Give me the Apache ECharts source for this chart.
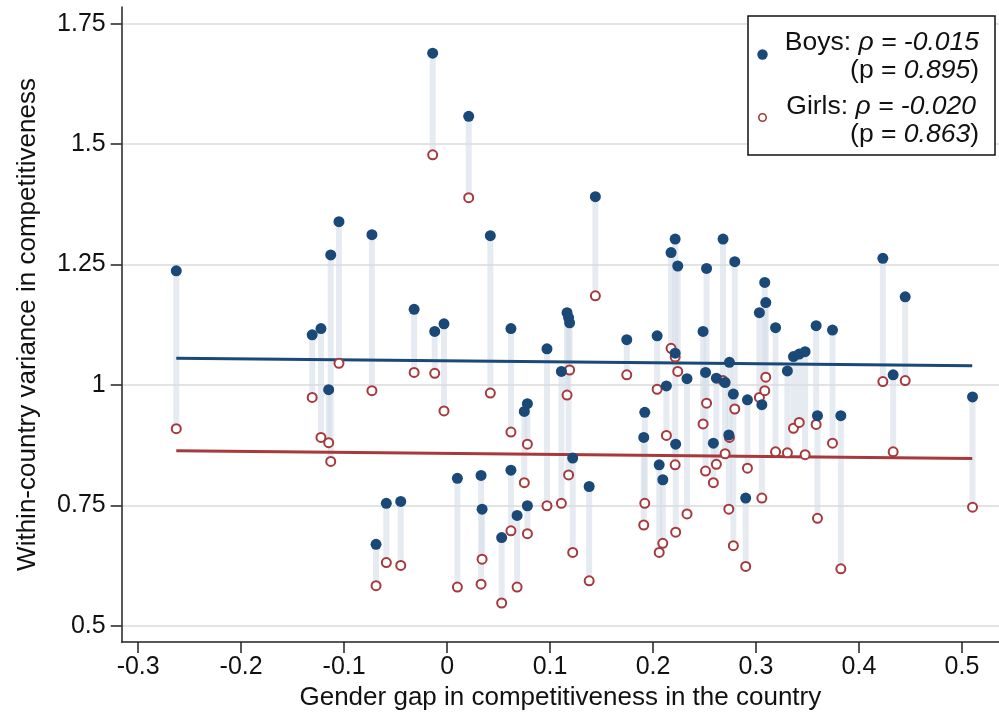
<!DOCTYPE html>
<html>
<head>
<meta charset="utf-8">
<script src="https://cdn.jsdelivr.net/npm/echarts@6/dist/echarts.min.js"></script>
<style>
  html, body { margin: 0; padding: 0; background: #fff; }
  #chart { width: 999px; height: 719px; }
</style>
</head>
<body>
<div id="chart"></div>
<script>
// Gender gap in competitiveness per country (x)
const gapValues = [
  -0.263, -0.131, -0.1225, -0.115, -0.113, -0.105, -0.073, -0.069, -0.059, -0.045,
  -0.032, -0.014, -0.012, -0.003, 0.010, 0.021, 0.033, 0.034, 0.042, 0.053,
  0.062, 0.062, 0.068, 0.075, 0.078, 0.078, 0.097, 0.111, 0.1165, 0.118,
  0.119, 0.122, 0.138, 0.144, 0.1745, 0.191, 0.192, 0.204, 0.206, 0.2095,
  0.213, 0.2175, 0.2215, 0.2215, 0.222, 0.224, 0.233, 0.2486, 0.251, 0.252,
  0.2586, 0.2615, 0.268, 0.270, 0.2736, 0.2742, 0.278, 0.2794, 0.290, 0.2917,
  0.3033, 0.3057, 0.3085, 0.3095, 0.319, 0.3305, 0.3364, 0.342, 0.3477, 0.3584,
  0.3597, 0.3743, 0.3824, 0.4232, 0.4332, 0.4449, 0.5103
];
// Within-country variance in competitiveness, boys
const boysValues = [
  1.237, 1.104, 1.117, 0.990, 1.270, 1.339, 1.312, 0.669, 0.754, 0.758,
  1.157, 1.689, 1.111, 1.127, 0.806, 1.558, 0.812, 0.742, 1.310, 0.683,
  0.823, 1.117, 0.729, 0.945, 0.961, 0.749, 1.075, 1.028, 1.150, 1.140,
  1.129, 0.848, 0.789, 1.391, 1.094, 0.891, 0.943, 1.102, 0.834, 0.803,
  0.998, 1.275, 1.303, 1.066, 0.877, 1.247, 1.013, 1.111, 1.026, 1.242,
  0.879, 1.014, 1.303, 1.005, 0.896, 1.047, 0.981, 1.256, 0.765, 0.969,
  1.150, 0.959, 1.213, 1.171, 1.119, 1.029, 1.059, 1.064, 1.069, 1.123,
  0.936, 1.114, 0.936, 1.263, 1.021, 1.183, 0.975
];
// Within-country variance in competitiveness, girls
const girlsValues = [
  0.909, 0.974, 0.891, 0.880, 0.841, 1.045, 0.988, 0.583, 0.631, 0.625,
  1.026, 1.478, 1.024, 0.946, 0.580, 1.389, 0.586, 0.638, 0.983, 0.547,
  0.697, 0.902, 0.580, 0.797, 0.877, 0.691, 0.749, 0.754, 0.979, 0.813,
  1.031, 0.652, 0.593, 1.185, 1.021, 0.709, 0.754, 0.991, 0.652, 0.671,
  0.895, 1.076, 1.058, 0.834, 0.694, 1.028, 0.732, 0.919, 0.821, 0.962,
  0.797, 0.835, 1.009, 0.857, 0.742, 0.891, 0.666, 0.950, 0.623, 0.827,
  0.974, 0.765, 0.988, 1.016, 0.861, 0.859, 0.910, 0.922, 0.855, 0.918,
  0.723, 0.879, 0.618, 1.007, 0.861, 1.009, 0.746
];
// Linear fit end points [x, y]
const boysFit = [[-0.263, 1.0555], [0.510, 1.040]];
const girlsFit = [[-0.263, 0.8635], [0.510, 0.847]];
// Tick values
const xTicks = [-0.3, -0.2, -0.1, 0, 0.1, 0.2, 0.3, 0.4, 0.5];
const yTicks = [0.5, 0.75, 1, 1.25, 1.5, 1.75];

const BLUE = '#1a4877';
const RED = '#a5393c';
const FONT = '"Liberation Sans", Arial, Helvetica, sans-serif';

const stemData = gapValues.map((g, i) => [g, boysValues[i], girlsValues[i]]);
const boysData = gapValues.map((g, i) => [g, boysValues[i]]);
const girlsData = gapValues.map((g, i) => [g, girlsValues[i]]);

const chart = echarts.init(document.getElementById('chart'), null, { renderer: 'canvas' });

const lineStyleAxis = { color: '#222', width: 1.5 };
const labelStyle = { color: '#111', fontSize: 25, fontFamily: FONT };
const titleStyle = { color: '#111', fontSize: 26, fontFamily: FONT };

function richLine(text) {
  return {
    text: text, align: 'right', verticalAlign: 'middle',
    rich: {
      n: { fontSize: 26.5, fontFamily: FONT, fill: '#111' },
      i: { fontSize: 26.5, fontFamily: FONT, fontStyle: 'italic', fill: '#111' }
    }
  };
}

chart.setOption({
  animation: false,
  backgroundColor: '#fff',
  grid: { left: 121.7, right: 0, top: 7, bottom: 77, containLabel: false },
  xAxis: {
    type: 'value',
    min: -0.316,
    max: 0.536,
    name: 'Gender gap in competitiveness in the country',
    nameLocation: 'middle',
    nameGap: 43,
    axisLine: { show: true, onZero: false, lineStyle: lineStyleAxis },
    axisTick: { show: true, inside: false, length: 11, customValues: xTicks, lineStyle: lineStyleAxis },
    axisLabel: Object.assign({ customValues: xTicks, margin: 13 }, labelStyle),
    nameTextStyle: titleStyle,
    splitLine: { show: false }
  },
  yAxis: {
    type: 'value',
    min: 0.466,
    max: 1.785,
    name: 'Within-country variance in competitiveness',
    nameLocation: 'middle',
    nameRotate: 90,
    nameGap: 81,
    axisLine: { show: true, onZero: false, lineStyle: lineStyleAxis },
    axisTick: { show: true, inside: false, length: 11, customValues: yTicks, lineStyle: lineStyleAxis },
    axisLabel: Object.assign({ customValues: yTicks, margin: 16 }, labelStyle),
    nameTextStyle: titleStyle,
    splitLine: { show: true, lineStyle: { color: '#e3e3e3', width: 2 } }
  },
  series: [
    {
      type: 'custom',
      name: 'stems',
      data: stemData,
      z: 1,
      renderItem: function (params, api) {
        const top = api.coord([api.value(0), api.value(1)]);
        const bottom = api.coord([api.value(0), api.value(2)]);
        return {
          type: 'line',
          shape: { x1: top[0], y1: top[1], x2: bottom[0], y2: bottom[1] },
          style: { stroke: 'rgba(214, 222, 232, 0.6)', lineWidth: 6 }
        };
      }
    },
    {
      type: 'line',
      name: 'Boys fit',
      data: boysFit,
      z: 2,
      symbol: 'none',
      lineStyle: { color: BLUE, width: 3 }
    },
    {
      type: 'line',
      name: 'Girls fit',
      data: girlsFit,
      z: 2,
      symbol: 'none',
      lineStyle: { color: RED, width: 3 }
    },
    {
      type: 'scatter',
      name: 'Girls',
      data: girlsData,
      z: 3,
      symbol: 'circle',
      symbolSize: 9,
      itemStyle: { color: '#fff', borderColor: RED, borderWidth: 2, opacity: 1 }
    },
    {
      type: 'scatter',
      name: 'Boys',
      data: boysData,
      z: 4,
      symbol: 'circle',
      symbolSize: 11,
      itemStyle: { color: BLUE, opacity: 1 }
    }
  ],
  graphic: [
    {
      type: 'rect',
      z: 100,
      shape: { x: 748, y: 16, width: 247, height: 139 },
      style: { fill: '#fff', stroke: '#111', lineWidth: 1.5 }
    },
    {
      type: 'circle',
      z: 101,
      shape: { cx: 762.5, cy: 54.5, r: 5.2 },
      style: { fill: BLUE }
    },
    {
      type: 'circle',
      z: 101,
      shape: { cx: 762.5, cy: 117.5, r: 3.7 },
      style: { fill: '#fff', stroke: RED, lineWidth: 1.6 }
    },
    { type: 'text', z: 101, x: 979, y: 43, style: richLine('{n|Boys: }{i|ρ = -0.015}') },
    { type: 'text', z: 101, x: 979, y: 71, style: richLine('{n|(p = }{i|0.895}{n|)}') },
    { type: 'text', z: 101, x: 976, y: 107, style: richLine('{n|Girls: }{i|ρ = -0.020}') },
    { type: 'text', z: 101, x: 979, y: 135, style: richLine('{n|(p = }{i|0.863}{n|)}') }
  ]
});
</script>
</body>
</html>
